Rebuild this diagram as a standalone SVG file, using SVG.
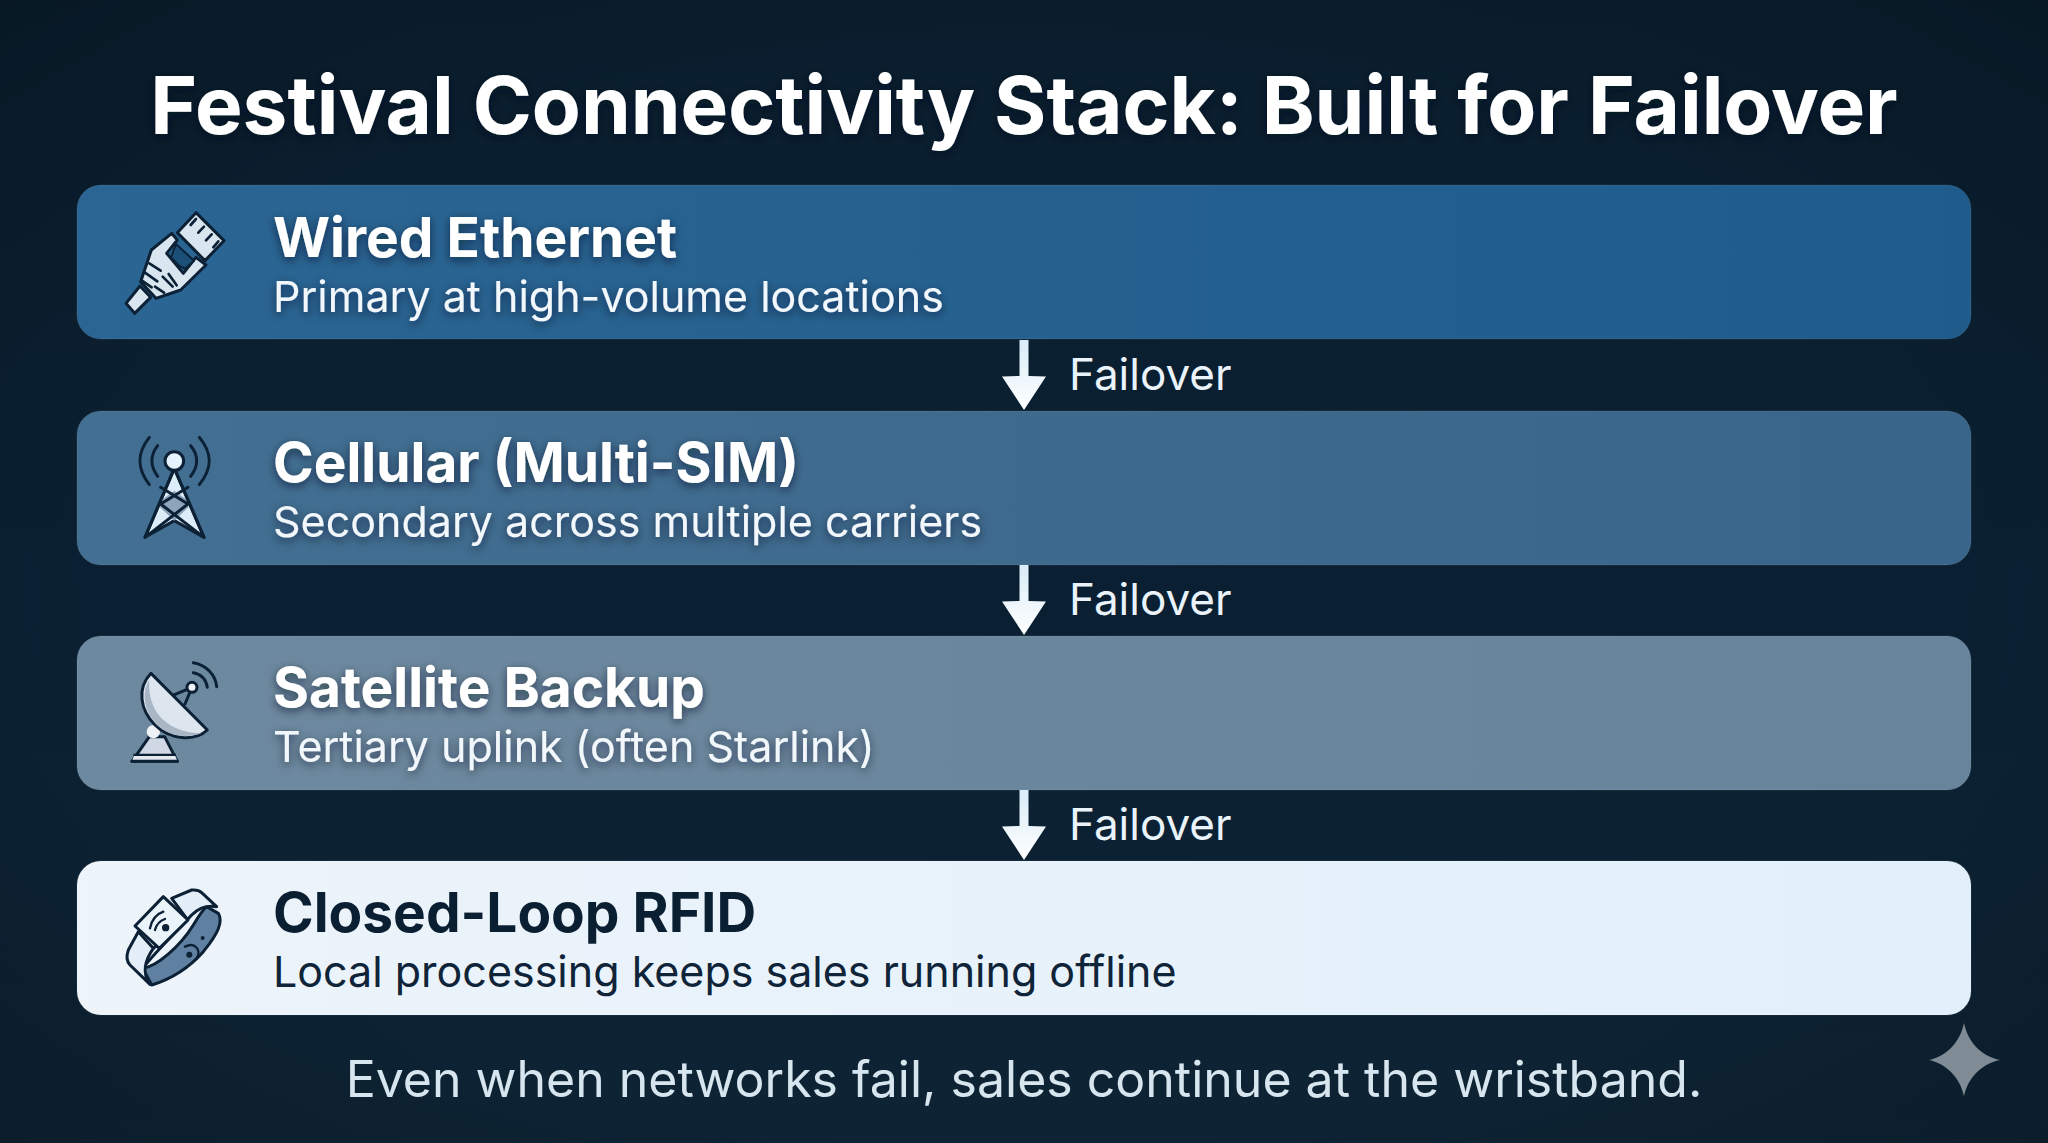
<svg xmlns="http://www.w3.org/2000/svg" width="2048" height="1143" viewBox="0 0 2048 1143">
<defs>
<linearGradient id="bg" x1="0" y1="0" x2="0" y2="1"><stop offset="0" stop-color="#0a1e2e"/><stop offset="0.5" stop-color="#0a2032"/><stop offset="1" stop-color="#0e2435"/></linearGradient>
<radialGradient id="vig" cx="0.5" cy="0.5" r="0.75"><stop offset="0.6" stop-color="#000" stop-opacity="0"/><stop offset="1" stop-color="#000" stop-opacity="0.22"/></radialGradient>
<linearGradient id="b1" x1="0" y1="0" x2="1" y2="0"><stop offset="0" stop-color="#2b6593"/><stop offset="1" stop-color="#1f5c8c"/></linearGradient>
<linearGradient id="b2" x1="0" y1="0" x2="1" y2="0"><stop offset="0" stop-color="#426f92"/><stop offset="1" stop-color="#3a658a"/></linearGradient>
<linearGradient id="b3" x1="0" y1="0" x2="1" y2="0"><stop offset="0" stop-color="#6d899f"/><stop offset="1" stop-color="#68849c"/></linearGradient>
<linearGradient id="b4" x1="0" y1="0" x2="1" y2="0"><stop offset="0" stop-color="#edf4fa"/><stop offset="1" stop-color="#e2f0fb"/></linearGradient>
<linearGradient id="arr" x1="0" y1="0" x2="0" y2="1"><stop offset="0" stop-color="#d9ecf8"/><stop offset="1" stop-color="#ffffff"/></linearGradient>
<filter id="sh" x="-5%" y="-30%" width="110%" height="160%"><feDropShadow dx="0" dy="3" stdDeviation="5" flood-color="#06141f" flood-opacity="0.6"/></filter>
<path id="arrow" d="M1019.500 0H1028.500V36L1046 36.500L1024 70L1002 36.500L1019.500 36Z" fill="url(#arr)"/>
</defs>
<style>
text{font-family:"Inter","Liberation Sans",sans-serif}
.title{font-size:80px;font-weight:700;fill:#fff}
.h{font-size:55px;font-weight:700;fill:#fff}
.s{font-size:43px;font-weight:400;fill:#f2f7fb}
.dk{fill:#0b1f33}
.fo{font-size:44px;font-weight:400;fill:#eaf3fa}
.foot{font-size:50px;fill:#d7e5ef}
.o{stroke:#0c2136;stroke-width:9;stroke-linejoin:round;stroke-linecap:round}
.l{fill:none;stroke:#0c2136;stroke-width:9;stroke-linecap:round;stroke-linejoin:round}
.bar{stroke:#ffffff;stroke-opacity:0.06;stroke-width:1.500}
</style>
<rect width="2048" height="1143" fill="url(#bg)"/>
<rect width="2048" height="1143" fill="url(#vig)"/>
<text id="title" class="title" x="1024" y="134" text-anchor="middle" filter="url(#sh)">Festival Connectivity Stack: Built for Failover</text>

<g id="connectors">
<use href="#arrow" y="340"/>
<use href="#arrow" y="565"/>
<use href="#arrow" y="790"/>
<text class="fo" x="1069" y="390">Failover</text>
<text class="fo" x="1069" y="615">Failover</text>
<text class="fo" x="1069" y="840">Failover</text>
</g>

<g id="node-wired">
<rect class="bar" x="77" y="185" width="1894" height="154" rx="24" fill="url(#b1)"/>
<g transform="translate(70 170) scale(0.3333)">
<path class="o" d="M378 128L462 212L405 272L322 188Z" fill="#d9e6f0"/>
<g class="l" style="stroke-width:8"><path d="M362 165L378 147M385 188L402 170M408 211L425 193M430 232L445 214" /></g>
<path class="o" d="M168 400L210 348L242 382L194 430Z" fill="#d9e6f0"/>
<path class="o" d="M305 190L244 240L212 335L258 385L332 360L408 285L378 262L340 310L290 250L322 210Z" fill="#d9e6f0"/>
<path d="M318 222L372 272L345 296L328 288L303 262Z" fill="#1c4f78" stroke="#0c2136" stroke-width="6" stroke-linejoin="round"/>
<g class="l" style="stroke-width:8"><path d="M238 280L272 302M225 308L262 334M216 332L245 352M255 350L282 368M278 320L308 350M296 312L320 346"/></g>
</g>
<text class="h" x="273" y="257" filter="url(#sh)">Wired Ethernet</text>
<text class="s" x="273" y="312" filter="url(#sh)">Primary at high-volume locations</text>
</g>

<g id="node-cellular">
<rect class="bar" x="77" y="411" width="1894" height="154" rx="24" fill="url(#b2)"/>
<g transform="translate(70 400) scale(0.3333)">
<path class="l" d="M238 112C200 160 200 205 238 254M263 137C240 165 240 200 263 229M388 112C428 160 428 205 388 254M362 137C386 165 386 200 362 229"/>
<path class="o" d="M313 205L402 412L313 362L225 412Z" fill="#dcedf9"/>
<path d="M272 302L313 272L354 302L355 322L313 362L270 322Z" fill="#8ca5bb"/>
<path class="l" d="M313 205L225 412M313 205L402 412M225 412L354 312L272 262M402 412L272 312L354 262"/>
<path class="o" d="M272 262L354 262" fill="none" style="stroke-opacity:0"/>
<circle class="o" cx="313" cy="183" r="28" fill="#e6f3fc"/>
</g>
<text class="h" x="273" y="482" filter="url(#sh)">Cellular (Multi-SIM)</text>
<text class="s" x="273" y="537" filter="url(#sh)">Secondary across multiple carriers</text>
</g>

<g id="node-satellite">
<rect class="bar" x="77" y="636" width="1894" height="154" rx="24" fill="url(#b3)"/>
<g transform="translate(70 630) scale(0.3333)">
<path class="o" d="M238 320L186 394H322L284 320Z" fill="#cfd8e4"/>
<path d="M190 375H318" stroke="#0c2136" stroke-width="8" fill="none"/>
<path d="M192 378H316L322 392H186Z" fill="#e4e9f0"/>
<path class="l" d="M186 394H322"/>
<circle cx="250" cy="305" r="20" fill="#eef2f7"/>
<path class="l" d="M312 195L366 172L345 222"/>
<circle class="o" cx="366" cy="172" r="15" fill="#f1f5f9"/>
<path class="o" d="M243 130L412 300C375 335 300 330 255 285C210 240 200 175 243 130Z" fill="#dde5ef"/>
<path d="M238 150C212 190 225 245 258 282C290 315 340 327 395 310C340 310 292 290 262 250C240 215 235 180 238 150Z" fill="#a9b6c6"/>
<path class="l" d="M370 98C410 105 437 135 440 170M370 128C392 132 408 148 412 172"/>
</g>
<text class="h" x="273" y="707" filter="url(#sh)">Satellite Backup</text>
<text class="s" x="273" y="762" filter="url(#sh)">Tertiary uplink (often Starlink)</text>
</g>

<g id="node-rfid">
<rect class="bar" x="77" y="861" width="1894" height="154" rx="24" fill="url(#b4)"/>
<g transform="translate(70 850) scale(0.3333)">
<path class="o" d="M218 355C260 350 330 290 370 225C385 200 400 178 410 170L445 190C460 215 445 250 400 305C360 350 310 385 245 405Z" fill="#5f80a0"/>
<path class="o" d="M305 145L365 120Q385 118 395 128L440 170C410 165 385 175 365 195C330 235 270 290 218 355C225 325 235 305 250 295L350 205Z" fill="#e3eef8"/>
<path class="o" d="M205 245L175 300Q165 330 180 345L240 403C215 370 225 330 250 295Z" fill="#e3eef8"/>
<path class="o" d="M280 140L354 210L268 295L195 228Z" fill="#eaf2fa"/>
<path class="l" style="stroke-width:7" d="M240 235C245 210 260 192 280 185M255 240C260 222 270 212 285 207"/>
<circle cx="287" cy="233" r="11" fill="#0c2136"/>
<path class="l" d="M345 290C375 275 395 300 380 325" style="stroke-width:7"/>
<circle cx="358" cy="314" r="9" fill="#0c2136"/>
<circle cx="398" cy="264" r="6" fill="#0c2136"/>
</g>
<text class="h dk" style="fill:#0b1f33" x="273" y="932">Closed-Loop RFID</text>
<text class="s" style="fill:#0f2438" x="273" y="987">Local processing keeps sales running offline</text>
</g>

<text id="footer" class="foot" x="1024" y="1097" text-anchor="middle">Even when networks fail, sales continue at the wristband.</text>
<path id="star" d="M1964 1023C1968 1042 1981 1056 2000 1060C1981 1064 1968 1078 1964 1096C1960 1078 1947 1064 1929 1060C1947 1056 1960 1042 1964 1023Z" fill="#808c95"/>
</svg>
